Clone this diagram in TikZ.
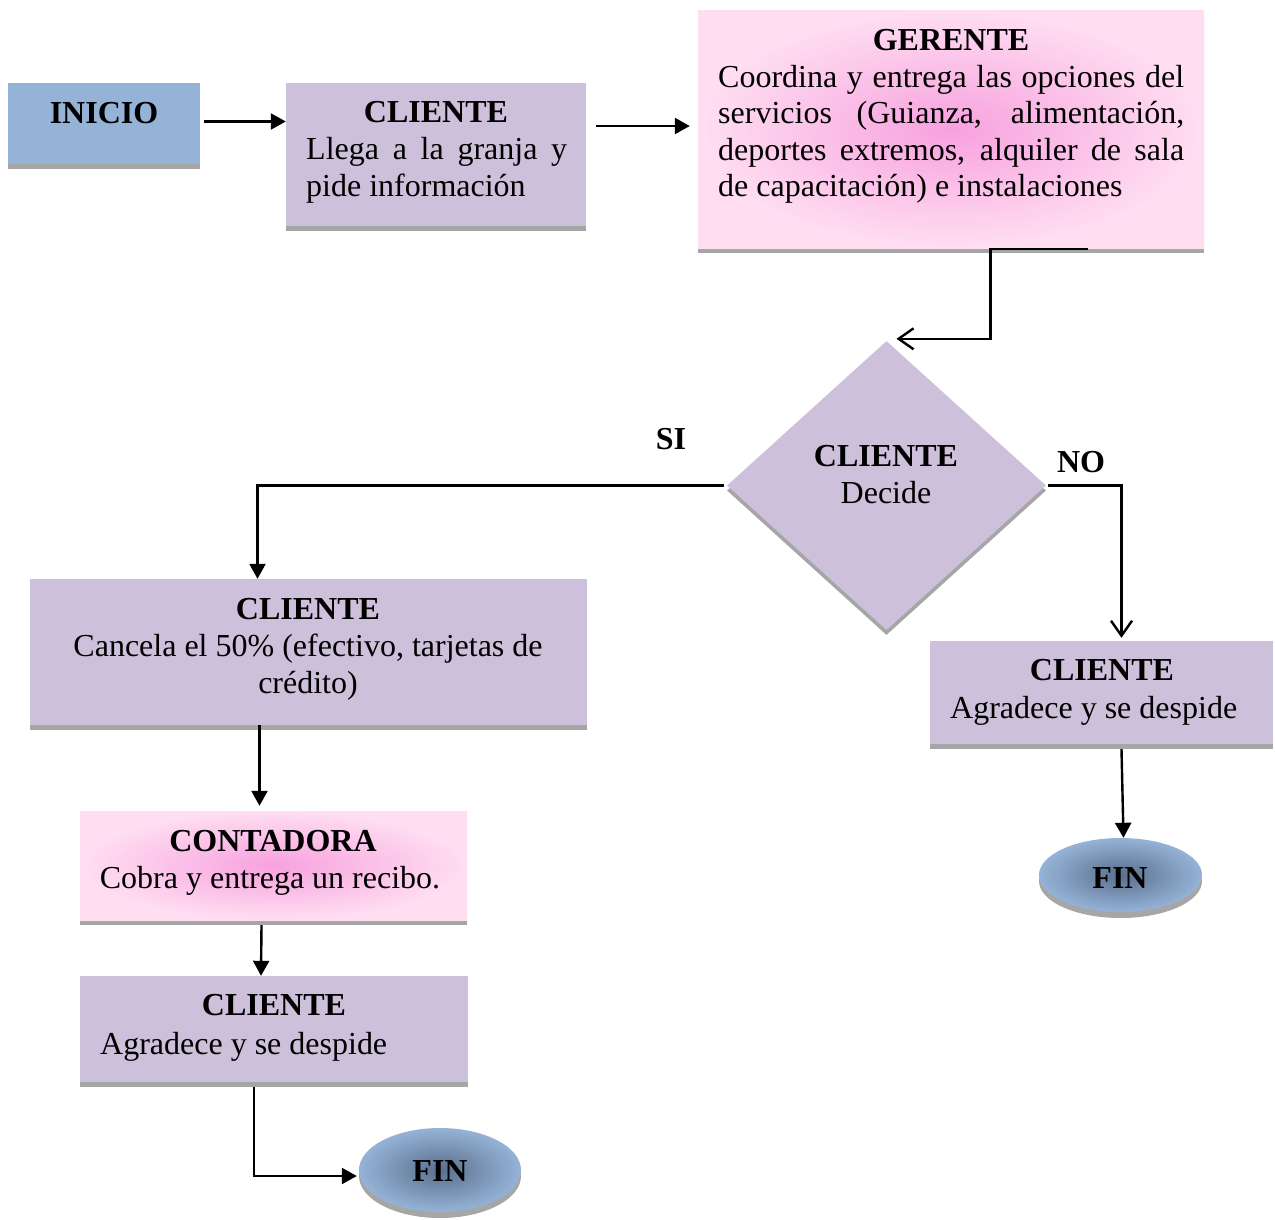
\documentclass[tikz,border=0pt]{standalone}
\usepackage{fontspec}
\setmainfont{Liberation Serif}
\usetikzlibrary{arrows.meta,shapes.geometric,calc}

\definecolor{lila}{HTML}{CCC0DA}
\definecolor{azul}{HTML}{95B3D7}
\definecolor{azulosc}{HTML}{5A6F8C}
\definecolor{gris}{HTML}{A6A6A6}
\definecolor{rosaC}{HTML}{F7A1DE}
\definecolor{rosaB}{HTML}{FFDEF2}

\tikzset{
  sombra/.style={preaction={fill=gris, transform canvas={yshift=-#1}}},
  sombra/.default=5pt,
  caja/.style 2 args={rectangle, inner sep=0pt, minimum width=#1, minimum height=#2, sombra},
  cajalila/.style={fill=lila},
  cajarosa/.style={shading=radial, inner color=rosaC, outer color=rosaB},
  fin/.style 2 args={ellipse, inner sep=0pt, minimum width=#1, minimum height=#2,
    shading=radial, inner color=azulosc, outer color=azul, sombra=6pt},
  txt/.style={anchor=base, inner sep=0pt},
  txtL/.style={anchor=base west, inner sep=0pt},
  flecha/.style={line width=2.4pt, -{Triangle[length=15pt,width=16pt]}},
  abierta/.style={line width=2.4pt, -{Straight Barb[length=15pt,width=21pt,line width=2.4pt]}},
}

\begin{document}
\begin{tikzpicture}[x=1pt, y=-1pt, font=\fontsize{32}{37}\selectfont]
\useasboundingbox (0,0) rectangle (1275,1219);

% --- boxes ---
\node[caja={192pt}{81pt}, fill=azul] (inicio) at (104,123.5) {};
\node[caja={300pt}{143pt}, cajalila] (c1) at (436,154.5) {};
\node[caja={506pt}{238pt}, cajarosa] (gerente) at (951,129) {};
\node[diamond, inner sep=0pt, minimum width=319pt, minimum height=289pt,
      fill=lila, sombra] (decide) at (886.5,485.5) {};
\node[caja={557pt}{146pt}, cajalila] (cancela) at (308.5,652) {};
\node[caja={387pt}{109pt}, cajarosa] (contadora) at (273.5,865.5) {};
\node[caja={388pt}{106pt}, cajalila] (agrL) at (274,1029) {};
\node[caja={343pt}{103pt}, cajalila] (agrR) at (1101.5,692.5) {};
\node[fin={162pt}{84pt}] (finL) at (440,1170) {};
\node[fin={163pt}{74pt}] (finR) at (1120.5,875) {};

% --- texts ---
\node[txt] (t-inicio) at (104,123) {\textbf{INICIO}};

\node[txt] (t-c1a) at (436,122) {\textbf{CLIENTE}};
\node[txtL] (t-c1b) at (306,159) {\makebox[261pt][s]{Llega a la granja y}};
\node[txtL] (t-c1c) at (306,196) {pide información};

\node[txt] (t-g0) at (951,50) {\textbf{GERENTE}};
\node[txtL] (t-g1) at (718,87) {\makebox[466pt][s]{Coordina y entrega las opciones del}};
\node[txtL] (t-g2) at (718,123) {\makebox[466pt][s]{servicios (Guianza, alimentación,}};
\node[txtL] (t-g3) at (718,160) {\makebox[466pt][s]{deportes extremos, alquiler de sala}};
\node[txtL] (t-g4) at (718,196) {de capacitación) e instalaciones};

\node[txt] (t-d1) at (886,466) {\textbf{CLIENTE}};
\node[txt] (t-d2) at (886,503) {Decide};

\node[txt] (t-si) at (671,449) {\textbf{SI}};
\node[txt] (t-no) at (1081,472) {\textbf{NO}};

\node[txt] (t-ca1) at (308,619) {\textbf{CLIENTE}};
\node[txt] (t-ca2) at (308,656) {Cancela el 50\% (efectivo, tarjetas de};
\node[txt] (t-ca3) at (308,693) {crédito)};

\node[txt] (t-co1) at (273,851) {\textbf{CONTADORA}};
\node[txt] (t-co2) at (270,888) {Cobra y entrega un recibo.};

\node[txt] (t-al1) at (274,1015) {\textbf{CLIENTE}};
\node[txtL] (t-al2) at (100,1054) {Agradece y se despide};

\node[txt] (t-ar1) at (1102,680) {\textbf{CLIENTE}};
\node[txtL] (t-ar2) at (950,718) {Agradece y se despide};

\node[txt] (t-finL) at (440,1181) {\textbf{FIN}};
\node[txt] (t-finR) at (1120,888) {\textbf{FIN}};

% --- connectors ---
\draw[flecha] ($(inicio.east)+(4,-2)$) -- ($(inicio.east -| c1.west)+(0,-2)$);
\draw[flecha] ($(gerente.west)+(-102,-3)$) -- ($(gerente.west)+(-8,-3)$);
\draw[abierta] ($(gerente.south)+(137,1)$) -| ($(decide.north)+(104,-2)$)
  -- ($(decide.north)+(10,-2)$);
\draw[flecha] ($(decide.west)+(-3,0)$) -| ($(cancela.north)+(-51,0)$);
\draw[abierta] ($(decide.east)+(2,0)$) -| ($(agrR.north)+(20,-3)$);
\draw[flecha] ($(contadora.north |- cancela.south)+(-14,0)$) -- ($(contadora.north)+(-14,-5)$);
\draw[flecha] ($(contadora.south)+(-12,5)$) -- ($(agrL.north)+(-13,0)$);
\draw[flecha] ($(agrL.south)+(-20,5)$) |- ($(finL.west)+(-2,6)$);
\draw[flecha] ($(agrR.south)+(20,5)$) -- ($(finR.north)+(3,0)$);
\end{tikzpicture}
\end{document}
